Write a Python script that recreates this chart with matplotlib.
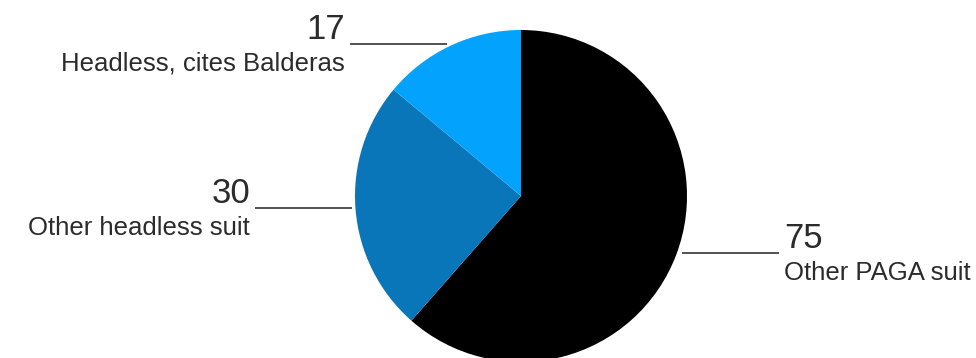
import numpy as np
import matplotlib
matplotlib.use("Agg")
import matplotlib.pyplot as plt

categories = ["Other PAGA suit", "Other headless suit", "Headless, cites Balderas"]
values = [75, 30, 17]
colors = ["#000000", "#0a76ba", "#03a3fd"]

W, H = 976, 358
fig = plt.figure(figsize=(W / 100, H / 100), dpi=100)
ax = fig.add_axes([0, 0, 1, 1])

cx, cy, r = 521, H - 196, 166
ax.pie(values, colors=colors, startangle=90, counterclock=False,
       center=(cx, cy), radius=r, frame=True,
       wedgeprops=dict(linewidth=0))
ax.set_xlim(0, W)
ax.set_ylim(0, H)
ax.set_aspect("equal")
ax.axis("off")

font = ["Liberation Sans", "DejaVu Sans"]
tc = "#2b2b2b"
# label layout: (line y in pixels from top, side, pie-edge x)
layout = {
    "Headless, cites Balderas": (44, "left", 447),
    "Other headless suit": (208, "left", 352),
    "Other PAGA suit": (253, "right", 682),
}
line_len = 97
for cat, val in zip(categories, values):
    ly, side, edge_x = layout[cat]
    y = H - ly
    if side == "left":
        x0, x1 = edge_x - line_len, edge_x
        tx, ha = x0 - 5, "right"
    else:
        x0, x1 = edge_x, edge_x + line_len
        tx, ha = x1 + 5, "left"
    ax.plot([x0, x1], [y, y], color="#333333", lw=1.2, solid_capstyle="butt")
    ax.text(tx, y + 5, str(val), ha=ha, va="baseline", fontsize=25,
            family=font, color=tc)
    ax.text(tx, y - 8, cat, ha=ha, va="top", fontsize=18.5,
            family=font, color=tc)

fig.savefig("out.png", dpi=100, facecolor="white")
